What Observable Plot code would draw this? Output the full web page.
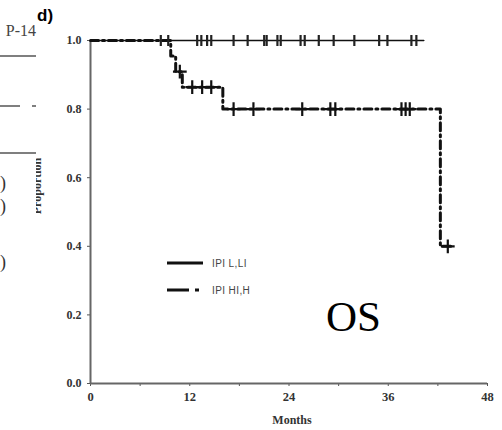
<!DOCTYPE html>
<html><head><meta charset="utf-8">
<script src="https://cdn.jsdelivr.net/npm/d3@7"></script>
<script src="https://cdn.jsdelivr.net/npm/@observablehq/plot@0.6"></script>
<style>
body{margin:0;background:#fff}
#wrap{position:relative;width:502px;height:430px;overflow:hidden;background:#fff}
#wrap svg{display:block}
.ov{position:absolute}
</style>
</head><body><div id="wrap"></div>
<script>
// Data
const groups = ["IPI L,LI", "IPI HI,H"];
const lowMonths = [0, 40.3];
const lowSurv = [1, 1];
const lowCensor = [8.5, 9.4, 12.9, 13.4, 14.1, 14.6, 17.3, 19.0, 21.0, 21.3, 22.6, 23.0, 25.4, 25.9, 27.6, 29.4, 31.9, 34.9, 35.9, 38.8, 39.4];
const highMonths = [0, 9.7, 10.3, 11.1, 16.0, 42.3, 43.6];
const highSurv = [1, 0.955, 0.909, 0.864, 0.80, 0.40, 0.40];
const highCensor = [10.8, 12.3, 13.5, 14.6, 17.3, 19.7, 25.6, 29.0, 29.6, 37.6, 38.1, 38.6, 43.2];
const xTicks = [0, 12, 24, 36, 48];
const xMinor = [6, 18, 30, 42];
const yTicks = [0, 0.2, 0.4, 0.6, 0.8, 1.0];

const stepAt = (ms, ss, t) => { let v = ss[0]; for (let i = 0; i < ms.length; i++) if (ms[i] <= t) v = ss[i]; return v; };
const lowLine = lowMonths.map((m, i) => ({month: m, surv: lowSurv[i]}));
const highLine = highMonths.map((m, i) => ({month: m, surv: highSurv[i]}));
const lowMarks = lowCensor.map(m => ({month: m, surv: stepAt(lowMonths, lowSurv, m)}));
const highMarks = highCensor.map(m => ({month: m, surv: stepAt(highMonths, highSurv, m)}));

const vbar = {draw(ctx, size) { const r = Math.sqrt(size / Math.PI); ctx.moveTo(0, -r); ctx.lineTo(0, r); }};

const serif = "'Liberation Serif','DejaVu Serif',serif";
const plot = Plot.plot({
  width: 502, height: 430,
  marginLeft: 90, marginRight: 15, marginTop: 40, marginBottom: 47,
  style: {background: "#fff", fontFamily: serif},
  x: {domain: [0, 48]},
  y: {domain: [0, 1]},
  marks: [
    Plot.axisY({ticks: yTicks, tickFormat: d3.format(".1f"), tickSize: 3, tickPadding: 6, fontSize: 12, fontWeight: "bold", fontFamily: serif, fill: "#333", stroke: "#555", label: null}),
    Plot.axisX({ticks: xTicks, tickSize: 3, tickPadding: 6, fontSize: 12.5, fontWeight: "bold", fontFamily: serif, fill: "#333", stroke: "#555", label: null}),
    Plot.axisX({ticks: xMinor, tickSize: 3, text: null, stroke: "#555", label: null}),
    Plot.ruleX([0], {stroke: "#666", strokeWidth: 2}),
    Plot.ruleY([0], {stroke: "#666", strokeWidth: 2}),
    Plot.line(lowLine, {x: "month", y: "surv", curve: "step-after", stroke: "#111", strokeWidth: 1.5}),
    Plot.line(highLine, {x: "month", y: "surv", curve: "step-after", stroke: "#111", strokeWidth: 3, strokeDasharray: "8,4,2,4"}),
    Plot.dot(lowMarks, {x: "month", y: "surv", symbol: vbar, r: 5.5, stroke: "#222", strokeWidth: 2.2}),
    Plot.dot(highMarks, {x: "month", y: "surv", symbol: "plus", r: 4.5, stroke: "#111", strokeWidth: 2.2})
  ]
});
const wrap = document.getElementById("wrap");
wrap.appendChild(plot);

// Texts and legend overlay
const ov = document.createElementNS("http://www.w3.org/2000/svg", "svg");
ov.setAttribute("width", 502); ov.setAttribute("height", 430);
ov.setAttribute("class", "ov"); ov.style.left = "0px"; ov.style.top = "0px";
ov.innerHTML = `
  <text x="292" y="424" text-anchor="middle" font-family="${serif}" font-weight="bold" font-size="12" fill="#333">Months</text>
  <text transform="translate(41,186) rotate(-90)" text-anchor="middle" font-family="${serif}" font-weight="bold" font-size="12" fill="#333">Proportion</text>
  <text x="326" y="331" font-family="${serif}" font-size="43" fill="#000">OS</text>
  <line x1="167" x2="203" y1="263" y2="263" stroke="#111" stroke-width="3"/>
  <text x="212" y="267" font-family="'Liberation Sans',Arial,sans-serif" font-size="10" letter-spacing="0.4" fill="#444">${groups[0]}</text>
  <line x1="167" x2="203" y1="290" y2="290" stroke="#111" stroke-width="3" stroke-dasharray="22,6,4,20"/>
  <text x="212" y="294" font-family="'Liberation Sans',Arial,sans-serif" font-size="10" letter-spacing="0.4" fill="#444">${groups[1]}</text>
  <text x="37" y="21" font-family="'Liberation Sans',Arial,sans-serif" font-weight="bold" font-size="17" fill="#000">d)</text>
  <rect x="0" y="0" width="36" height="430" fill="#fff"/>
  <text x="36" y="36" text-anchor="end" font-family="${serif}" font-size="16" fill="#444">P-14</text>
  <line x1="0" x2="36" y1="56" y2="56" stroke="#555" stroke-width="1.5"/>
  <line x1="0" x2="20" y1="106" y2="106" stroke="#555" stroke-width="1.5"/>
  <line x1="32" x2="36" y1="106" y2="106" stroke="#555" stroke-width="1.5"/>
  <line x1="0" x2="36" y1="153" y2="153" stroke="#555" stroke-width="1.5"/>
  <text x="0" y="189" font-family="${serif}" font-size="18" fill="#333">)</text>
  <text x="0" y="212" font-family="${serif}" font-size="18" fill="#333">)</text>
  <text x="0" y="268" font-family="${serif}" font-size="18" fill="#333">)</text>
`;
wrap.appendChild(ov);
</script>
</body></html>
